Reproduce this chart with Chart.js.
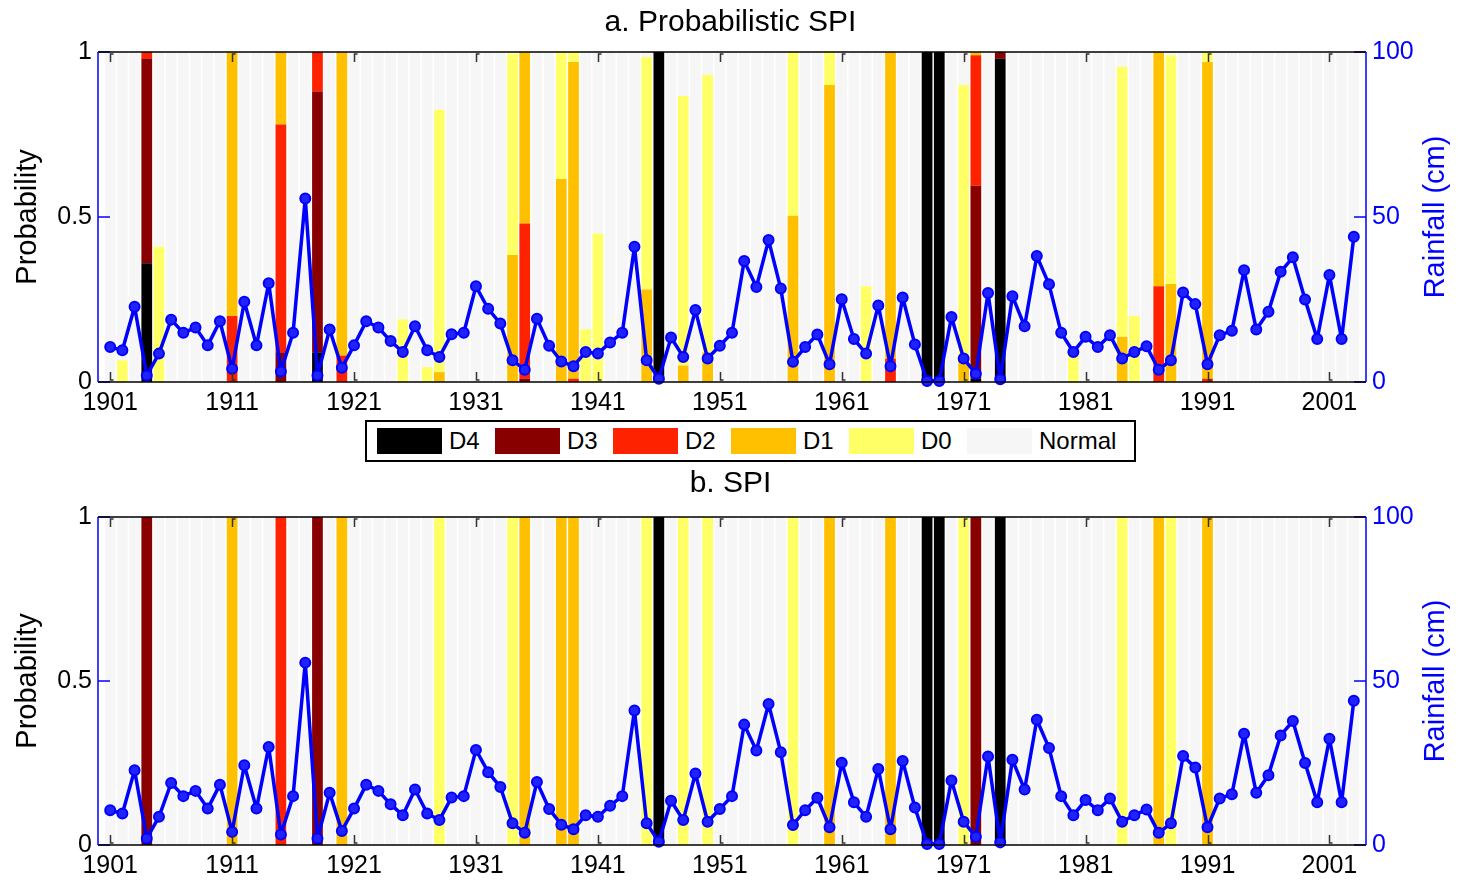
<!DOCTYPE html>
<html>
<head>
<meta charset="utf-8">
<script src="https://cdn.jsdelivr.net/npm/chart.js@4.4.1/dist/chart.umd.min.js"></script>
<style>
  body { margin: 0; background: #fff; width: 1461px; height: 881px; overflow: hidden; position: relative; font-family: 'Liberation Sans', Arial, sans-serif; }
  canvas { position: absolute; left: 0; }
  #chartA { top: 0; }
  #chartB { top: 466px; }
  #legend {
    position: absolute; left: 365px; top: 420px; width: 757px; height: 38px;
    border: 2px solid #000; display: flex; align-items: center; padding-left: 10px; box-sizing: content-box;
  }
  .item { display: flex; align-items: center; width: 118px; font-size: 24px; color: #000; }
  .item:last-child { width: auto; }
  .swatch { width: 65px; height: 26px; margin-right: 7px; }
</style>
</head>
<body>
<canvas id="chartA" width="1461" height="412"></canvas>
<div id="legend"></div>
<canvas id="chartB" width="1461" height="415"></canvas>

<script>
// Tahun dan curah hujan tahunan (cm)
const years = [];
for (let y = 1901; y <= 2003; y++) years.push(y);

const rainfall = [
  10.6, 9.6, 22.8, 2.0, 8.6, 18.9, 14.9, 16.5, 11.1, 18.4,
  4.0, 24.3, 11.1, 29.9, 3.2, 14.9, 55.6, 2.0, 15.9, 4.3,
  11.1, 18.4, 16.5, 12.4, 9.1, 16.9, 9.6, 7.6, 14.5, 14.9,
  29.0, 22.2, 17.7, 6.6, 3.7, 19.2, 11.0, 6.2, 4.8, 9.1,
  8.6, 12.0, 14.9, 41.0, 6.6, 1.0, 13.5, 7.6, 21.8, 7.1,
  11.0, 14.9, 36.7, 28.8, 43.0, 28.3, 6.1, 10.6, 14.4, 5.4,
  25.1, 13.0, 8.6, 23.2, 4.8, 25.6, 11.4, 0.3, 0.3, 19.7,
  7.1, 2.5, 27.0, 0.8, 26.0, 16.9, 38.2, 29.6, 14.9, 9.1,
  13.7, 10.6, 14.2, 7.1, 9.1, 10.8, 3.7, 6.6, 27.1, 23.6,
  5.4, 14.2, 15.5, 33.9, 15.9, 21.3, 33.4, 37.8, 25.0, 13.0,
  32.4, 13.0, 44.0
];

// a. Probabilistic SPI: tahun kering dan probabilitas tiap kelas
const probYears = [1902, 1904, 1905, 1911, 1915, 1918, 1920, 1925, 1927, 1928,
  1934, 1935, 1938, 1939, 1940, 1941, 1945, 1946, 1948, 1950,
  1957, 1960, 1963, 1965, 1968, 1969, 1971, 1972, 1974, 1980,
  1984, 1985, 1987, 1988, 1991];
const probD4 = [0, 0.36, 0, 0, 0, 0.09, 0, 0, 0, 0,
  0, 0, 0, 0, 0, 0, 0, 1, 0, 0,
  0, 0, 0, 0, 1, 1, 0, 0.01, 0.98, 0,
  0, 0, 0, 0, 0];
const probD3 = [0, 0.62, 0, 0, 0.09, 0.79, 0, 0, 0, 0,
  0, 0.01, 0, 0, 0, 0, 0, 0, 0, 0,
  0, 0, 0, 0, 0, 0, 0, 0.585, 0.02, 0,
  0, 0, 0, 0, 0];
const probD2 = [0, 0.02, 0, 0.20, 0.69, 0.12, 0.08, 0, 0, 0,
  0, 0.47, 0, 0.01, 0, 0, 0, 0, 0, 0,
  0, 0, 0, 0.07, 0, 0, 0, 0.395, 0, 0,
  0, 0, 0.29, 0, 0.01];
const probD1 = [0, 0, 0, 0.80, 0.22, 0, 0.92, 0, 0, 0.03,
  0.385, 0.52, 0.615, 0.96, 0, 0, 0.28, 0, 0.05, 0.09,
  0.504, 0.90, 0, 0.93, 0, 0, 0.07, 0.01, 0, 0,
  0.137, 0, 0.71, 0.297, 0.96];
const probD0 = [0.066, 0, 0.41, 0, 0, 0, 0, 0.19, 0.045, 0.795,
  0.61, 0, 0.385, 0.03, 0.16, 0.45, 0.705, 0, 0.817, 0.84,
  0.496, 0.10, 0.29, 0, 0, 0, 0.83, 0, 0, 0.09,
  0.818, 0.20, 0, 0.693, 0.03];

// b. SPI: kelas kekeringan deterministik
const spiYears = [1904, 1911, 1915, 1918, 1920, 1928, 1934, 1935, 1938, 1939,
  1945, 1946, 1948, 1950, 1957, 1960, 1965, 1968, 1969, 1971,
  1972, 1974, 1984, 1987, 1988, 1991];
const spiClass = ['D3', 'D1', 'D2', 'D3', 'D1', 'D0', 'D0', 'D1', 'D1', 'D1',
  'D0', 'D4', 'D0', 'D0', 'D0', 'D1', 'D1', 'D4', 'D4', 'D0',
  'D3', 'D4', 'D0', 'D1', 'D0', 'D1'];

// Kelas, warna dan tick
const classNames = ['D4', 'D3', 'D2', 'D1', 'D0', 'Normal'];
const classColors = ['#000000', '#880000', '#ff2200', '#ffc000', '#ffff66', '#f6f6f6'];
const xTickYears = [1901, 1911, 1921, 1931, 1941, 1951, 1961, 1971, 1981, 1991, 2001];
const probTicks = [0, 0.5, 1];
const rainTicks = [0, 50, 100];

const FONT = "'Liberation Sans', Arial, sans-serif";
const BLUE = '#0000ff';

// Susun probabilitas per kelas untuk panel a
function probabilisticSeries() {
  const cols = [probD4, probD3, probD2, probD1, probD0];
  return classNames.map((name, k) => years.map(y => {
    const i = probYears.indexOf(y);
    if (k < 5) return { x: y, y: i < 0 ? 0 : cols[k][i] };
    const sum = i < 0 ? 0 : cols.reduce((s, c) => s + c[i], 0);
    return { x: y, y: Math.max(0, 1 - sum) };
  }));
}

// Susun kelas SPI per kelas untuk panel b
function spiSeries() {
  return classNames.map(name => years.map(y => {
    const i = spiYears.indexOf(y);
    const cls = i < 0 ? 'Normal' : spiClass[i];
    return { x: y, y: cls === name ? 1 : 0 };
  }));
}

// Bingkai sumbu, tick ke dalam (gaya MATLAB) dan judul sumbu kanan
const framePlugin = {
  id: 'frame',
  afterDatasetsDraw(chart) {
    const { ctx, chartArea: a, scales } = chart;
    ctx.save();
    ctx.lineWidth = 1.5;
    // tick sumbu x atas & bawah
    ctx.strokeStyle = '#333';
    xTickYears.forEach(v => {
      const px = Math.round(scales.x.getPixelForValue(v)) + 0.5;
      ctx.beginPath();
      ctx.moveTo(px + 3, a.top + 2); ctx.lineTo(px, a.top + 2); ctx.lineTo(px, a.top + 10);
      ctx.moveTo(px + 3, a.bottom - 2); ctx.lineTo(px, a.bottom - 2); ctx.lineTo(px, a.bottom - 10);
      ctx.stroke();
    });
    // tick kiri & kanan
    ctx.strokeStyle = BLUE;
    probTicks.forEach(v => {
      const py = scales.y.getPixelForValue(v);
      ctx.beginPath(); ctx.moveTo(a.left, py); ctx.lineTo(a.left + 12, py); ctx.stroke();
    });
    rainTicks.forEach(v => {
      const py = scales.y2.getPixelForValue(v);
      ctx.beginPath(); ctx.moveTo(a.right, py); ctx.lineTo(a.right - 12, py); ctx.stroke();
    });
    // garis bingkai
    ctx.strokeStyle = '#000';
    ctx.beginPath();
    ctx.moveTo(a.left, a.top); ctx.lineTo(a.right, a.top);
    ctx.moveTo(a.left, a.bottom); ctx.lineTo(a.right, a.bottom);
    ctx.stroke();
    ctx.strokeStyle = BLUE;
    ctx.beginPath();
    ctx.moveTo(a.left, a.top); ctx.lineTo(a.left, a.bottom);
    ctx.moveTo(a.right, a.top); ctx.lineTo(a.right, a.bottom);
    ctx.stroke();

    // judul sumbu kanan dibaca dari bawah ke atas
    ctx.translate(1436, (a.top + a.bottom) / 2);
    ctx.rotate(-Math.PI / 2);
    ctx.fillStyle = BLUE;
    ctx.font = `29px ${FONT}`;
    ctx.textAlign = 'center';
    ctx.textBaseline = 'middle';
    ctx.fillText('Rainfall (cm)', 0, 0);
    ctx.restore();
  }
};

function makePanel(canvasId, titleText, series, titlePad, xHeight) {
  const canvas = document.getElementById(canvasId);
  if (!canvas) {
    console.log(`Chart element ${canvasId} not found`);
    return null;
  }

  const barSets = series.map((data, k) => ({
    type: 'bar',
    label: classNames[k],
    data: data,
    backgroundColor: classColors[k],
    borderWidth: 0,
    barPercentage: 0.88,
    categoryPercentage: 1,
    yAxisID: 'y',
    order: 2
  }));

  const rainSet = {
    type: 'line',
    label: 'Rainfall',
    data: years.map((y, i) => ({ x: y, y: rainfall[i] })),
    borderColor: BLUE,
    backgroundColor: '#2222ff',
    borderWidth: 3.5,
    borderJoinStyle: 'round',
    borderCapStyle: 'round',
    pointRadius: 5,
    pointBorderWidth: 2,
    pointBorderColor: BLUE,
    tension: 0,
    clip: false,
    yAxisID: 'y2',
    order: 1
  };

  return new Chart(canvas.getContext('2d'), {
    data: { datasets: [...barSets, rainSet] },
    options: {
      responsive: false,
      devicePixelRatio: 1,
      animation: false,
      layout: { padding: 0 },
      plugins: {
        legend: { display: false },
        tooltip: { enabled: false },
        title: {
          display: true,
          text: titleText,
          color: '#000',
          font: { family: FONT, size: 30, weight: 'normal' },
          padding: titlePad
        }
      },
      scales: {
        x: {
          type: 'linear',
          min: 1900,
          max: 2004,
          offset: false,
          stacked: true,
          afterBuildTicks: s => { s.ticks = xTickYears.map(v => ({ value: v })); },
          afterFit: s => { s.height = xHeight; },
          grid: { display: false, drawTicks: false, offset: false },
          border: { display: false },
          ticks: {
            color: '#000',
            padding: 6,
            maxRotation: 0,
            autoSkip: false,
            font: { family: FONT, size: 25 },
            callback: v => String(v)
          }
        },
        y: {
          position: 'left',
          min: 0,
          max: 1,
          stacked: true,
          afterBuildTicks: s => { s.ticks = probTicks.map(v => ({ value: v })); },
          afterFit: s => { s.width = 98; },
          grid: { display: false, drawTicks: false },
          border: { display: false },
          ticks: {
            color: '#000',
            padding: 6,
            font: { family: FONT, size: 25 },
            callback: v => String(v)
          },
          title: {
            display: true,
            text: 'Probability',
            color: '#000',
            font: { family: FONT, size: 29 },
            padding: { top: 11, bottom: 0 }
          }
        },
        y2: {
          position: 'right',
          min: 0,
          max: 100,
          stacked: false,
          afterBuildTicks: s => { s.ticks = rainTicks.map(v => ({ value: v })); },
          afterFit: s => { s.width = 95; },
          grid: { display: false, drawTicks: false },
          border: { display: false },
          ticks: {
            color: BLUE,
            padding: 6,
            font: { family: FONT, size: 25 },
            callback: v => String(v)
          }
        }
      }
    },
    plugins: [framePlugin]
  });
}

// Legenda HTML di antara dua panel
function buildLegend() {
  const box = document.getElementById('legend');
  classNames.forEach((name, k) => {
    const item = document.createElement('div');
    item.className = 'item';
    const sw = document.createElement('span');
    sw.className = 'swatch';
    sw.style.background = classColors[k];
    const label = document.createElement('span');
    label.textContent = name;
    item.appendChild(sw);
    item.appendChild(label);
    box.appendChild(item);
  });
}

makePanel('chartA', 'a. Probabilistic SPI', probabilisticSeries(), { top: 5, bottom: 11 }, 30);
buildLegend();
makePanel('chartB', 'b. SPI', spiSeries(), { top: 0, bottom: 15 }, 36);
</script>
</body>
</html>
